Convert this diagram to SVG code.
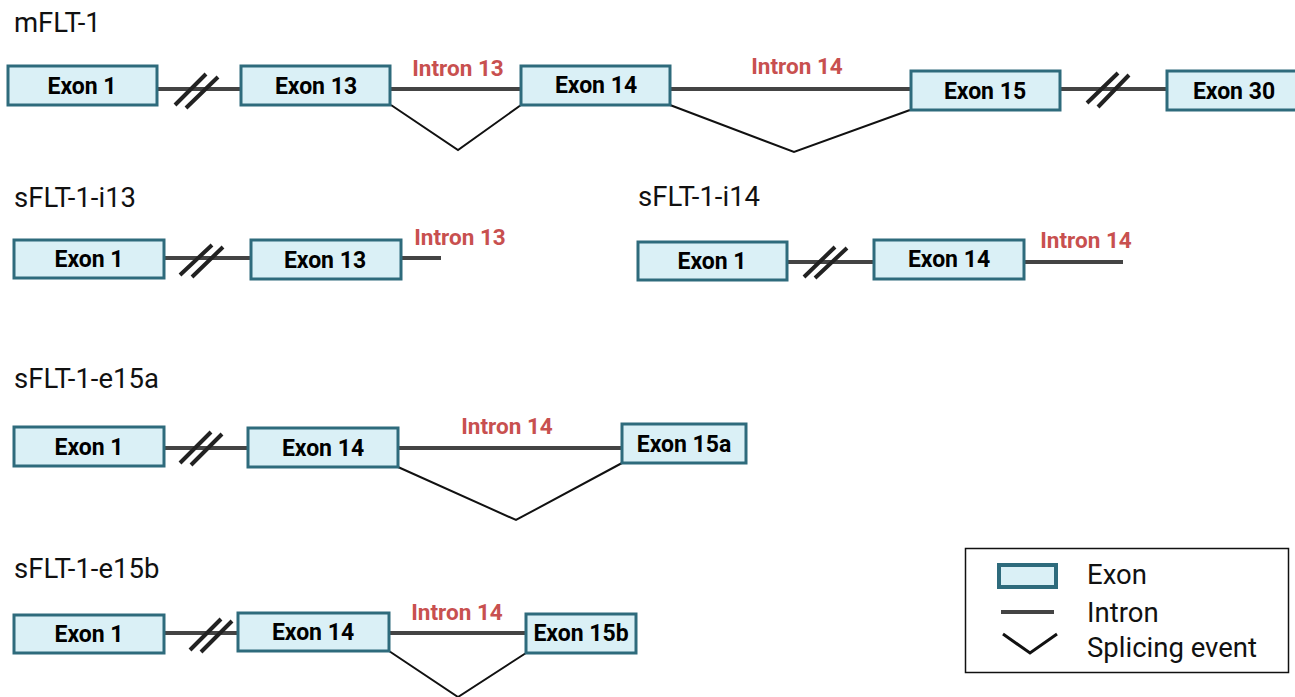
<svg xmlns="http://www.w3.org/2000/svg" width="1295" height="697" viewBox="0 0 1295 697">
<style>
.exon{fill:#daf0f6;stroke:#2e6b7c;stroke-width:3}
.el{font-family:Roboto,"Liberation Sans",sans-serif;font-weight:bold;font-size:23px;fill:#000;text-anchor:middle}
.il{font-family:Roboto,"Liberation Sans",sans-serif;font-weight:bold;font-size:22.5px;fill:#c8504f;text-anchor:middle}
.title{font-family:Roboto,"Liberation Sans",sans-serif;font-size:27.5px;fill:#111}
.intron{stroke:#444;stroke-width:4;fill:none}
.slash{stroke:#222;stroke-width:4;fill:none}
.splice{stroke:#111;stroke-width:2;fill:none}
.leg{font-family:Roboto,"Liberation Sans",sans-serif;font-size:27.5px;fill:#111}
</style>
<rect width="1295" height="697" fill="#fff"/>

<g id="connectors">
  <line class="intron" x1="157" y1="89" x2="241" y2="89"/>
  <line class="intron" x1="390" y1="89" x2="521" y2="89"/>
  <line class="intron" x1="670" y1="89" x2="910" y2="89"/>
  <line class="intron" x1="1060" y1="89" x2="1166" y2="89"/>
  <path class="slash" d="M175,105 L206,74 M186,108 L218,77"/>
  <path class="slash" d="M1087,103 L1118,73 M1098,107 L1129,75"/>
  <polyline class="splice" points="391,105 458,150 521,105"/>
  <polyline class="splice" points="670,105 794,152 910,110"/>
  <line class="intron" x1="164" y1="258" x2="250" y2="258"/>
  <line class="intron" x1="401" y1="258" x2="441" y2="258"/>
  <path class="slash" d="M180,275 L212,245 M192,277 L223,247"/>
  <line class="intron" x1="787" y1="262" x2="874" y2="262"/>
  <line class="intron" x1="1024" y1="262" x2="1123" y2="262"/>
  <path class="slash" d="M804,277 L835,247 M815,278 L847,248"/>
  <line class="intron" x1="164" y1="448" x2="248" y2="448"/>
  <line class="intron" x1="398" y1="448" x2="622" y2="448"/>
  <path class="slash" d="M180,463 L211,432 M191,465 L222,434"/>
  <polyline class="splice" points="398,467 516,520 622,463"/>
  <line class="intron" x1="164" y1="633" x2="238" y2="633"/>
  <line class="intron" x1="389" y1="633" x2="526" y2="633"/>
  <path class="slash" d="M190,650 L221,619 M201,652 L232,621"/>
  <polyline class="splice" points="389,651 458,697 526,653"/>
</g>

<g id="mFLT-1">
  <text class="title" x="14" y="32">mFLT-1</text>
  <g id="m-exon1"><rect class="exon" x="8" y="66" width="149" height="39"/><text class="el" x="82" y="94">Exon 1</text></g>
  <g id="m-exon13"><rect class="exon" x="241" y="66" width="149" height="39"/><text class="el" x="316" y="94">Exon 13</text></g>
  <g id="m-exon14"><rect class="exon" x="521" y="66" width="149" height="39"/><text class="el" x="596" y="93">Exon 14</text></g>
  <g id="m-exon15"><rect class="exon" x="911" y="71" width="149" height="39"/><text class="el" x="985" y="99">Exon 15</text></g>
  <g id="m-exon30"><rect class="exon" x="1167" y="71" width="135" height="39"/><text class="el" x="1234" y="99">Exon 30</text></g>
  <text class="il" x="458" y="76">Intron 13</text>
  <text class="il" x="797" y="74">Intron 14</text>
</g>

<g id="sFLT-1-i13">
  <text class="title" x="14" y="207">sFLT-1-i13</text>
  <g id="i13-exon1"><rect class="exon" x="14" y="240" width="150" height="38"/><text class="el" x="89" y="267">Exon 1</text></g>
  <g id="i13-exon13"><rect class="exon" x="251" y="240" width="150" height="39"/><text class="el" x="325" y="268">Exon 13</text></g>
  <text class="il" x="460" y="245">Intron 13</text>
</g>

<g id="sFLT-1-i14">
  <text class="title" x="638" y="206">sFLT-1-i14</text>
  <g id="i14-exon1"><rect class="exon" x="638" y="242" width="149" height="38"/><text class="el" x="712" y="269">Exon 1</text></g>
  <g id="i14-exon14"><rect class="exon" x="874" y="240" width="150" height="39"/><text class="el" x="949" y="267">Exon 14</text></g>
  <text class="il" x="1086" y="248">Intron 14</text>
</g>

<g id="sFLT-1-e15a">
  <text class="title" x="14" y="388">sFLT-1-e15a</text>
  <g id="a-exon1"><rect class="exon" x="14" y="427" width="150" height="39"/><text class="el" x="89" y="455">Exon 1</text></g>
  <g id="a-exon14"><rect class="exon" x="248" y="428" width="150" height="39"/><text class="el" x="323" y="456">Exon 14</text></g>
  <g id="a-exon15a"><rect class="exon" x="622" y="424" width="124" height="39"/><text class="el" x="684" y="452">Exon 15a</text></g>
  <text class="il" x="507" y="434">Intron 14</text>
</g>

<g id="sFLT-1-e15b">
  <text class="title" x="14" y="578">sFLT-1-e15b</text>
  <g id="b-exon1"><rect class="exon" x="14" y="615" width="150" height="38"/><text class="el" x="89" y="642">Exon 1</text></g>
  <g id="b-exon14"><rect class="exon" x="238" y="613" width="151" height="38"/><text class="el" x="313" y="640">Exon 14</text></g>
  <g id="b-exon15b"><rect class="exon" x="526" y="614" width="110" height="39"/><text class="el" x="581" y="641">Exon 15b</text></g>
  <text class="il" x="457" y="620">Intron 14</text>
</g>

<g id="legend">
  <rect x="965.5" y="548.5" width="323" height="124" fill="#fff" stroke="#111" stroke-width="1.5"/>
  <rect x="999" y="565" width="57" height="22" fill="#daf0f6" stroke="#2e6b7c" stroke-width="4"/>
  <line class="intron" x1="1001" y1="612" x2="1054" y2="612"/>
  <polyline stroke="#111" stroke-width="3" fill="none" points="1003,634 1030,653 1057,634"/>
  <text class="leg" x="1087" y="584">Exon</text>
  <text class="leg" x="1087" y="622">Intron</text>
  <text class="leg" x="1087" y="657">Splicing event</text>
</g>
</svg>
